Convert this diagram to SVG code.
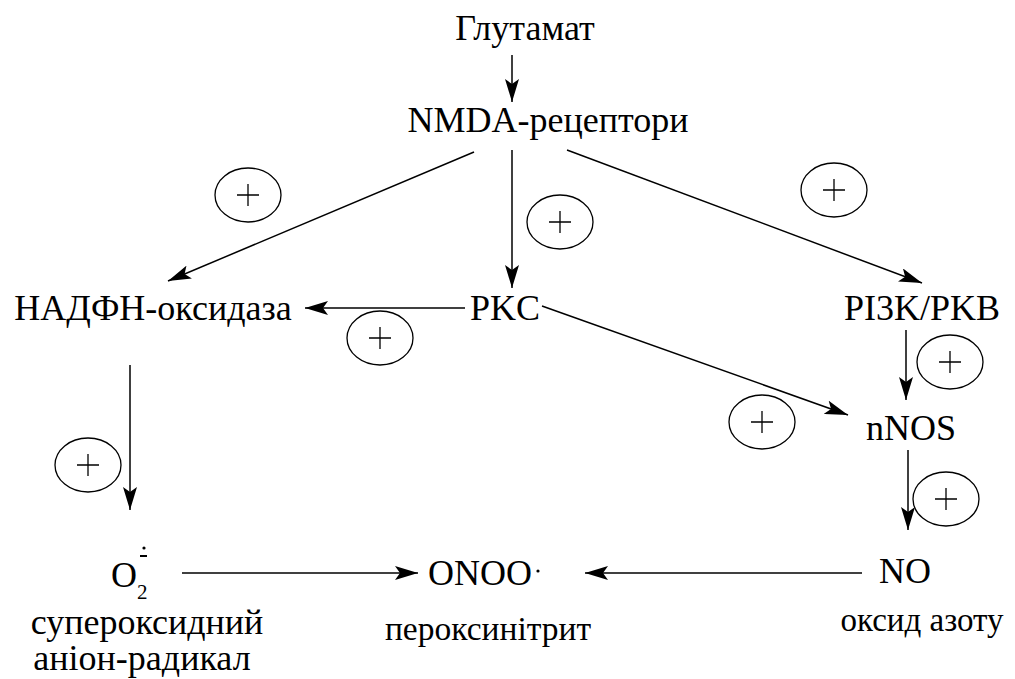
<svg xmlns="http://www.w3.org/2000/svg" width="1015" height="679" viewBox="0 0 1015 679">
<style>
text{font-size:36px;fill:#000}
.c line{stroke:#000;stroke-width:1.5}
</style>
<defs>
<marker id="ah" markerWidth="24" markerHeight="14" viewBox="0 0 24 14" refX="23" refY="7" orient="auto" markerUnits="userSpaceOnUse">
<path d="M0,0 L23,7 L0,14 L5,7 Z" fill="#000"/>
</marker>
<g id="plus"><ellipse cx="0" cy="0" rx="33" ry="27" fill="none" stroke="#000" stroke-width="1.3"/><path d="M-11,0 H11 M0,-11 V11" fill="none" stroke="#000" stroke-width="1.3"/></g>
</defs>
<g font-family="'Liberation Serif', 'DejaVu Serif', serif">
<g id="glutamat"><text x="525" y="40" text-anchor="middle">Глутамат</text></g>
<g id="nmda"><text x="548" y="132" text-anchor="middle">NMDA-рецептори</text></g>
<g id="nadph"><text x="153" y="320" text-anchor="middle">НАДФН-оксидаза</text></g>
<g id="pkc"><text x="505" y="320" text-anchor="middle">PKC</text></g>
<g id="pi3k"><text x="922" y="320" text-anchor="middle">PI3K/PKB</text></g>
<g id="nnos"><text x="911" y="440" text-anchor="middle">nNOS</text></g>
<g id="o2"><text x="111" y="587">O<tspan x="137" y="599" style="font-size:21px">2</tspan></text><rect x="140" y="555" width="7" height="2"/><circle cx="144" cy="548" r="1.6"/><text x="147" y="634" text-anchor="middle">супероксидний</text><text x="142" y="670" text-anchor="middle">аніон-радикал</text></g>
<g id="onoo"><text x="428" y="585">ONOO</text><circle cx="538" cy="571" r="1.6"/><text x="488" y="640" text-anchor="middle" style="font-size:33.5px">пероксинітрит</text></g>
<g id="no"><text x="905" y="583" text-anchor="middle">NO</text><text x="922" y="631" text-anchor="middle" style="font-size:33px">оксид азоту</text></g>
</g>
<g class="c" id="connectors">
<line x1="512" y1="55" x2="512" y2="102" marker-end="url(#ah)"/>
<line x1="474" y1="152" x2="168" y2="281" marker-end="url(#ah)"/>
<line x1="512" y1="150" x2="512" y2="288" marker-end="url(#ah)"/>
<line x1="567" y1="150" x2="922" y2="283" marker-end="url(#ah)"/>
<line x1="465" y1="308" x2="305" y2="308" marker-end="url(#ah)"/>
<line x1="542" y1="306" x2="848" y2="415" marker-end="url(#ah)"/>
<line x1="906" y1="330" x2="906" y2="400" marker-end="url(#ah)"/>
<line x1="908" y1="450" x2="908" y2="530" marker-end="url(#ah)"/>
<line x1="130" y1="365" x2="130" y2="510" marker-end="url(#ah)"/>
<line x1="182" y1="573" x2="418" y2="573" marker-end="url(#ah)"/>
<line x1="862" y1="573" x2="585" y2="573" marker-end="url(#ah)"/>
</g>
<g id="plus-signs">
<use href="#plus" x="248" y="195"/>
<use href="#plus" x="560" y="222"/>
<use href="#plus" x="834" y="190"/>
<use href="#plus" x="380" y="338"/>
<use href="#plus" x="950" y="362"/>
<use href="#plus" x="762" y="422"/>
<use href="#plus" x="88" y="465"/>
<use href="#plus" x="946" y="499"/>
</g>
</svg>
